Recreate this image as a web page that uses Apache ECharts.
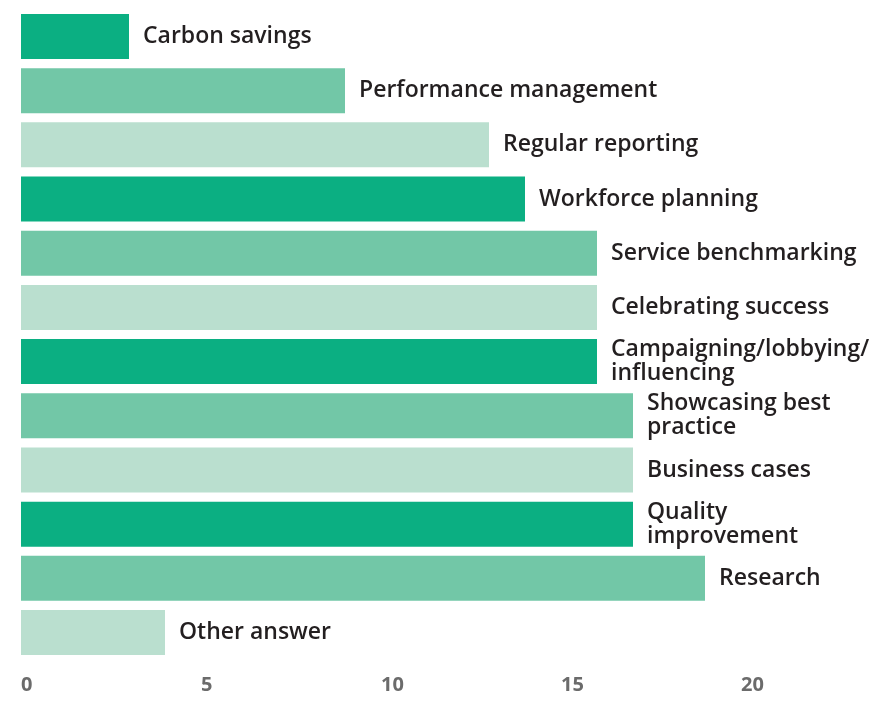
<!DOCTYPE html>
<html>
<head>
<meta charset="utf-8">
<script src="https://cdn.jsdelivr.net/npm/echarts@6/dist/echarts.min.js"></script>
<style>
html,body{margin:0;padding:0;background:#fff;}
#chart{width:885px;height:714px;}
</style>
</head>
<body>
<div id="chart"></div>
<script>
const categories = [
  "Carbon savings",
  "Performance management",
  "Regular reporting",
  "Workforce planning",
  "Service benchmarking",
  "Celebrating success",
  "Campaigning/lobbying/\ninfluencing",
  "Showcasing best\npractice",
  "Business cases",
  "Quality\nimprovement",
  "Research",
  "Other answer"
];
const values = [3, 9, 13, 14, 16, 16, 16, 17, 17, 17, 19, 4];
const barColors = ["#0BAF82", "#72C7A7", "#BADFCF"];
const tickValues = [0, 5, 10, 15, 20];

const chart = echarts.init(document.getElementById('chart'), null, {renderer: 'canvas'});
chart.setOption({
  animation: false,
  grid: {left: 21, right: 0, top: 9.4, bottom: 54.4, containLabel: false},
  xAxis: {
    type: 'value',
    min: 0,
    max: 24,
    interval: 5,
    axisLine: {show: false},
    axisTick: {show: false},
    splitLine: {show: false},
    axisLabel: {
      showMaxLabel: false,
      align: 'left',
      margin: 16,
      color: '#6B6B6B',
      fontFamily: 'Open Sans',
      fontWeight: 'bold',
      fontSize: 20,
      formatter: function (v) { return tickValues.indexOf(v) >= 0 ? String(v) : ''; }
    }
  },
  yAxis: {
    type: 'category',
    inverse: true,
    data: categories,
    axisLine: {show: false},
    axisTick: {show: false},
    axisLabel: {show: false}
  },
  series: [{
    type: 'bar',
    data: values.map((v, i) => ({value: v, itemStyle: {color: barColors[i % 3]}})),
    barWidth: 45,
    label: {
      show: true,
      position: 'right',
      distance: 14,
      formatter: function (p) { return categories[p.dataIndex]; },
      color: '#231F20',
      fontFamily: 'Open Sans',
      fontWeight: 600,
      fontSize: 23,
      lineHeight: 24
    }
  }]
});
</script>
</body>
</html>
